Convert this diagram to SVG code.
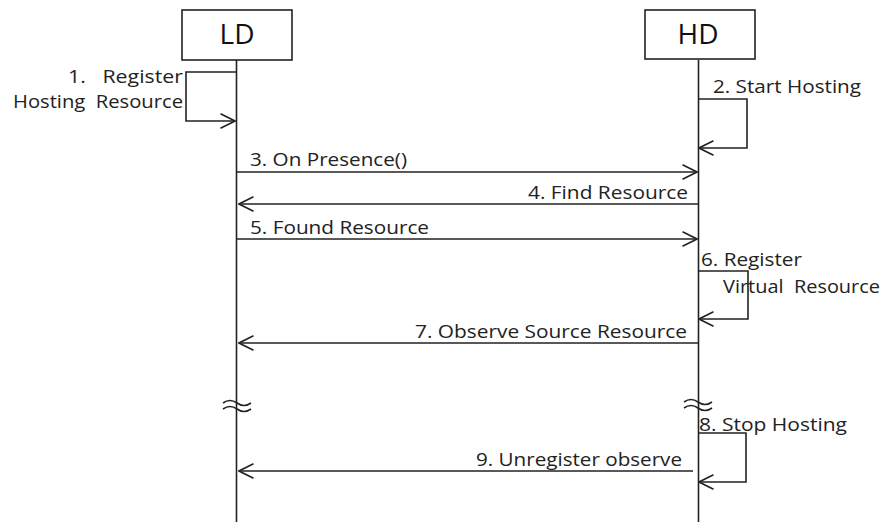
<svg xmlns="http://www.w3.org/2000/svg" width="884" height="522" viewBox="0 0 884 522">
  <defs>
    <style>
      .box { fill: #fff; stroke: #222; stroke-width: 1.6; }
      .life { stroke: #222; stroke-width: 1.6; fill: none; }
      .msg { stroke: #222; stroke-width: 1.6; fill: none; }
      .head { stroke: #222; stroke-width: 1.6; fill: none; stroke-linecap: round; }
      .title { font-family: "Open Sans", "Liberation Sans", sans-serif; font-size: 28px; fill: #111; text-anchor: middle; }
      .lbl { font-family: "Open Sans", "Liberation Sans", sans-serif; font-size: 18px; fill: #222; }
      .brk { stroke: #222; stroke-width: 1.6; fill: none; }
    </style>
    <marker id="open" viewBox="0 0 16 16" refX="15" refY="8" markerWidth="16" markerHeight="16" markerUnits="userSpaceOnUse" orient="auto">
      <path d="M1,1 L15,8 L1,15" class="head"/>
    </marker>
  </defs>

  <!-- lifelines and participants -->
  <g id="LD">
    <line class="life" x1="236.5" y1="60" x2="236.5" y2="522"/>
    <rect class="box" x="182" y="10" width="110" height="50"/>
    <text class="title" x="237" y="44">LD</text>
  </g>
  <g id="HD">
    <line class="life" x1="698.5" y1="60" x2="698.5" y2="522"/>
    <rect class="box" x="645" y="10" width="110" height="49"/>
    <text class="title" x="698" y="44">HD</text>
  </g>

  <!-- time breaks on the lifelines -->
  <g id="breaks">
    <path class="brk" d="M223,403 q7,-5 14,0 t14,0"/>
    <path class="brk" d="M223,409 q7,-5 14,0 t14,0"/>
    <path class="brk" d="M684,402 q7,-5 14,0 t14,0"/>
    <path class="brk" d="M684,408 q7,-5 14,0 t14,0"/>
  </g>

  <!-- messages -->
  <g id="connectors">
    <path class="msg" d="M236,72 H186 V121 H235" marker-end="url(#open)"/>
    <path class="msg" d="M698,99 H747 V148 H699" marker-end="url(#open)"/>
    <path class="msg" d="M237,172 H697" marker-end="url(#open)"/>
    <path class="msg" d="M698,204 H239" marker-end="url(#open)"/>
    <path class="msg" d="M237,239 H697" marker-end="url(#open)"/>
    <path class="msg" d="M698,271 H748 V319 H699" marker-end="url(#open)"/>
    <path class="msg" d="M698,343 H239" marker-end="url(#open)"/>
    <path class="msg" d="M698,433 H746 V482 H699" marker-end="url(#open)"/>
    <path class="msg" d="M693,471 H239" marker-end="url(#open)"/>
  </g>

  <!-- message labels -->
  <g id="labels">
    <text class="lbl" x="68" y="83" textLength="115" lengthAdjust="spacingAndGlyphs" xml:space="preserve">1.   Register</text>
    <text class="lbl" x="13" y="108" textLength="170" lengthAdjust="spacingAndGlyphs" xml:space="preserve">Hosting  Resource</text>
    <text class="lbl" x="713" y="93" textLength="148" lengthAdjust="spacingAndGlyphs">2. Start Hosting</text>
    <text class="lbl" x="250" y="166" textLength="157" lengthAdjust="spacingAndGlyphs">3. On Presence()</text>
    <text class="lbl" x="528" y="199" textLength="160" lengthAdjust="spacingAndGlyphs">4. Find Resource</text>
    <text class="lbl" x="250" y="234" textLength="179" lengthAdjust="spacingAndGlyphs">5. Found Resource</text>
    <text class="lbl" x="701" y="266" textLength="101" lengthAdjust="spacingAndGlyphs">6. Register</text>
    <text class="lbl" x="723" y="293" textLength="157" lengthAdjust="spacingAndGlyphs" xml:space="preserve">Virtual  Resource</text>
    <text class="lbl" x="415" y="338" textLength="272" lengthAdjust="spacingAndGlyphs">7. Observe Source Resource</text>
    <text class="lbl" x="699" y="431" textLength="148" lengthAdjust="spacingAndGlyphs">8. Stop Hosting</text>
    <text class="lbl" x="476" y="466" textLength="206" lengthAdjust="spacingAndGlyphs">9. Unregister observe</text>
  </g>
</svg>
